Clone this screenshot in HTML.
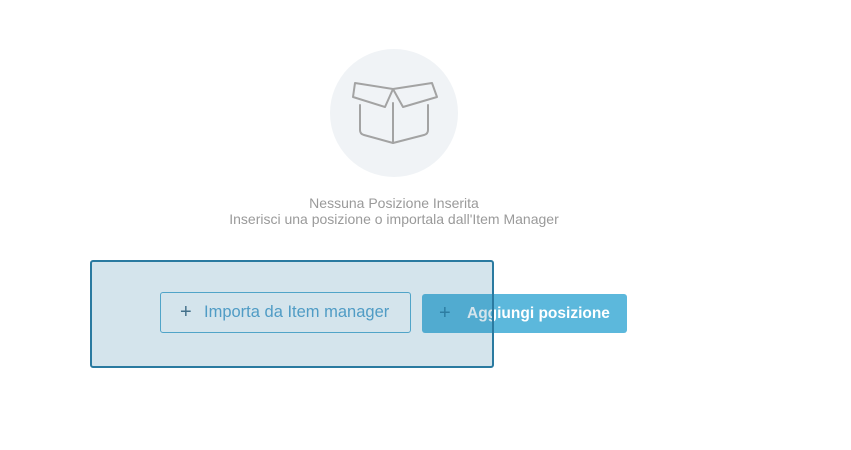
<!DOCTYPE html>
<html><head><style>
body{margin:0;width:851px;height:450px;background:#fff;position:relative;overflow:hidden;font-family:"Liberation Sans",sans-serif}
.t{position:absolute;left:0;width:788px;text-align:center;color:#9a9a9a;font-size:14px;line-height:16px}
.b1{position:absolute;left:160px;top:292px;width:249px;height:39px;border:1.5px solid #5aafd3;border-radius:3px;color:#5aa5cf;font-size:16.5px;line-height:39px;box-sizing:content-box}
.b2{position:absolute;left:422px;top:294px;width:205px;height:39px;background:#5cb8dc;border-radius:3px;color:#fff;font-size:15.5px;font-weight:bold;line-height:39px}
.ov{position:absolute;left:90px;top:260px;width:400px;height:104px;border:2.5px solid #2a7aa0;border-radius:3px;background:rgba(42,122,160,0.2)}
</style></head><body>
<svg style="position:absolute;left:0;top:0" width="851" height="450">
<circle cx="394" cy="113" r="64" fill="#f0f3f6"/>
<g fill="none" stroke="#a3a3a3" stroke-width="2" stroke-linejoin="round" stroke-linecap="round">
<path d="M355 83 L393 89 L385 107 L353 97 Z"/>
<path d="M432 83 L393 89 L403 107 L437 97 Z"/>
<path d="M360 105 V130 Q360 134 364 135 L393 143 L424 135 Q428 134 428 130 V105"/>
<path d="M393 103 V143"/>
</g>
</svg>
<div class="t" style="top:195px">Nessuna Posizione Inserita</div>
<div class="t" style="top:211px">Inserisci una posizione o importala dall'Item Manager</div>
<div class="b1"><span style="position:absolute;left:19px;font-size:20px;color:#4a6f85;font-weight:normal">+</span><span style="position:absolute;left:43px">Importa da Item manager</span></div>
<div class="b2"><span style="position:absolute;left:17px;font-size:20px;font-weight:normal;color:#2f7fa3">+</span><span style="position:absolute;left:45px">Aggiungi posizione</span></div>
<div class="ov"></div>
</body></html>
